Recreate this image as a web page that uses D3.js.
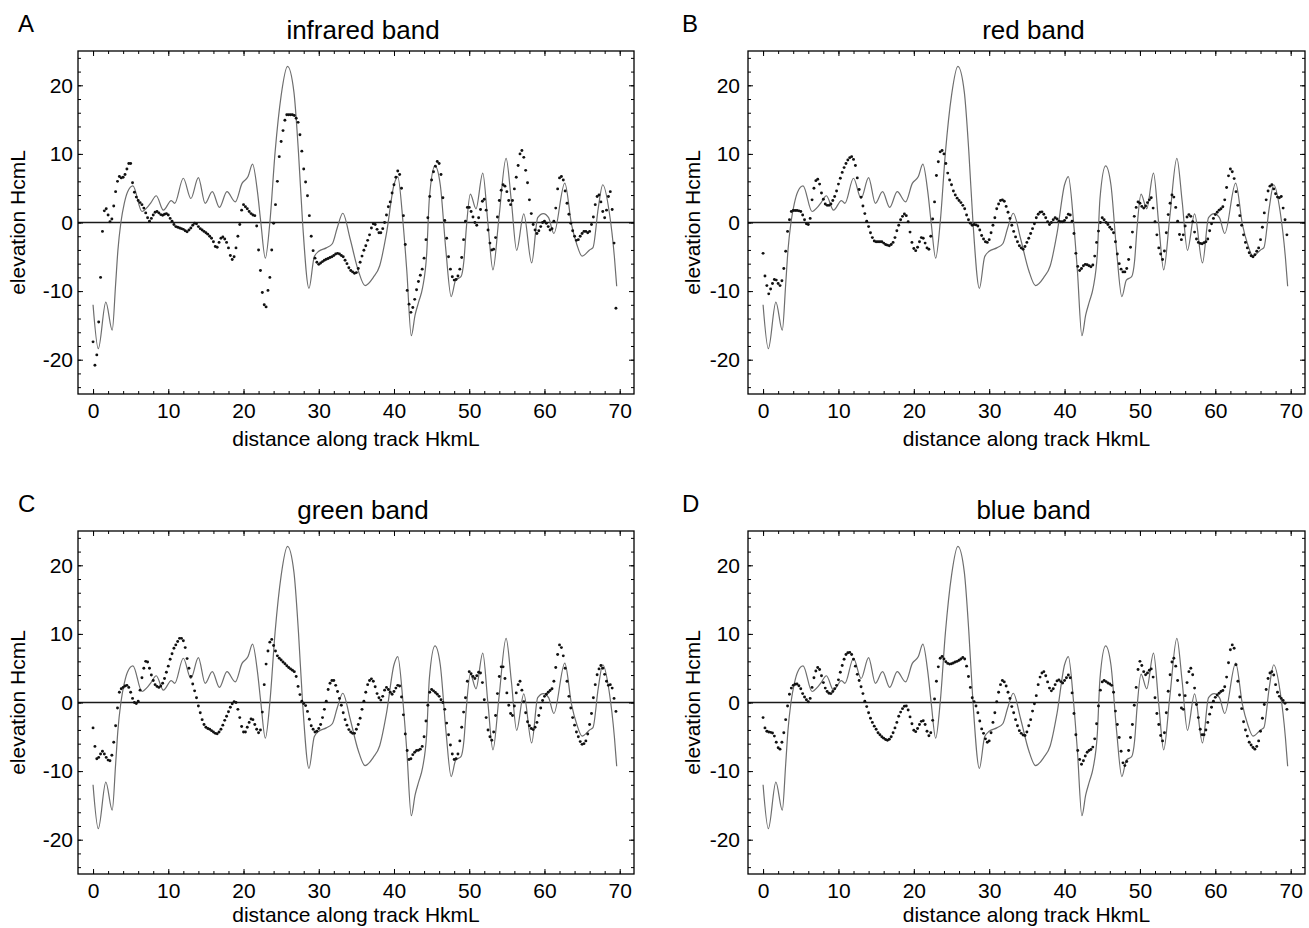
<!DOCTYPE html>
<html><head><meta charset="utf-8">
<script src="https://cdn.jsdelivr.net/npm/d3@7"></script>
<style>
body{margin:0;background:#fff;}
svg{display:block;}
text{font-family:"Liberation Sans",Arial,Helvetica,sans-serif;fill:#000;}
</style></head>
<body><svg id="chart" width="1309" height="928"></svg>
<script>
// ---------- DATA ----------
// reference elevation profile (gray line), same in all four panels
const lineKm = [0,0.7,1.7,2.55,3.0,3.3,3.7,4.15,4.6,5.3,6.5,7.2,7.7,8.4,9.35,10.4,10.85,12.0,13.0,14.0,14.9,15.85,16.8,17.8,18.9,19.8,20.6,21.2,21.85,22.3,22.9,23.5,24.2,25.0,25.85,26.7,27.3,27.85,28.7,29.4,30.0,31.0,31.8,32.45,33.2,34.15,35.25,36.15,37.25,38.1,39.0,40.0,40.5,41.2,41.7,42.3,42.8,43.3,43.8,44.35,44.7,45.45,46.15,46.9,47.6,48.2,48.9,49.3,49.6,50.15,50.9,51.8,52.5,53.15,53.95,54.9,55.6,56.3,57.25,58.3,59.1,59.85,60.55,61.25,62.7,63.6,64.3,65.0,66.0,66.45,67.15,67.75,68.6,69.3,69.6];
const lineElev = [-12,-18.4,-11.6,-15.7,-9.0,-4.1,0,2.8,4.5,5.35,1.6,2.2,2.9,3.9,1.8,3.2,2.8,6.45,3.5,6.55,2.8,4.5,2.2,4.5,3.0,5.7,6.7,8.5,4.5,0,-5.2,0,10.3,18.5,22.75,19,10.3,0,-9.6,-5.0,-4.2,-3.7,-3.1,-0.8,1.35,-2.3,-7.0,-9.2,-8.0,-6.3,-1.6,5.5,6.7,0,-7.0,-16.5,-13.5,-11.5,-9.5,-4.5,3.5,8.25,5.5,-4.1,-10.8,-8.4,-7.9,-5.5,-1.0,4.15,2.0,7.2,-0.3,-6.9,0.7,9.35,3.1,-4.05,1.25,-5.9,0.7,1.3,0.7,-1.6,5.75,-0.3,-3.2,-4.9,-4.0,-3.65,2.1,5.5,1.6,-5.1,-9.3];

// band estimates (dots), one value every 0.25 km from 0 km
const dotStepKm = 0.25;
const infrared = [
-17.4,-20.8,-19.3,-14.5,-8.0,-1.3,1.7,2.0,1.1,0.1,0.5,2.4,4.5,6.0,6.7,6.5,6.6,7.0,7.8,8.6,
8.6,5.8,4.4,3.7,3.2,2.9,2.6,2.1,1.4,0.7,0.2,0.6,1.1,1.5,1.6,1.4,1.15,1.05,1.2,1.3,
1.1,0.6,0.2,-0.3,-0.6,-0.7,-0.8,-0.9,-1.0,-1.2,-1.35,-1.1,-0.8,-0.4,-0.1,-0.2,-0.6,-0.9,-1.1,-1.3,
-1.5,-1.7,-2.0,-2.3,-2.8,-3.5,-3.6,-2.9,-2.3,-2.1,-2.4,-2.9,-3.7,-4.8,-5.4,-5.0,-3.7,-2.0,-0.3,1.8,
2.6,2.3,2.0,1.6,1.3,1.1,1.0,-0.5,-4.0,-7.0,-10.2,-12.0,-12.3,-9.9,-8.0,-4.0,-0.1,2.6,6.0,9.6,
11.8,13.4,14.9,15.7,15.7,15.7,15.7,15.6,15.2,14.6,12.8,10.4,7.8,5.9,3.9,1.0,-2.0,-4.1,-5.2,-5.8,
-6.1,-5.9,-5.7,-5.5,-5.35,-5.25,-5.1,-5.0,-4.8,-4.6,-4.5,-4.6,-4.8,-5.0,-5.5,-6.0,-6.6,-7.0,-7.2,-7.4,
-7.3,-6.7,-5.8,-4.9,-4.05,-3.4,-2.6,-1.8,-0.8,-0.2,-0.3,-1.0,-1.5,-1.5,-0.9,0.0,1.1,2.3,3.0,4.3,
5.5,6.6,7.5,7.0,5.0,1.0,-3.2,-9.9,-11.9,-13.1,-12.4,-11.2,-9.8,-8.6,-7.7,-6.8,-5.2,-2.5,0.7,3.8,
6.2,7.4,8.2,8.9,8.6,7.0,3.6,0.3,-2.3,-5.0,-6.8,-7.9,-8.4,-8.3,-7.8,-6.8,-5.1,-2.5,0.2,2.2,
2.2,1.6,0.8,0.0,-0.4,0.7,1.9,3.1,3.4,1.8,-1.1,-3.0,-4.0,-3.9,-2.2,0.8,3.2,4.7,5.5,5.3,
4.5,3.2,2.6,3.2,4.9,6.6,8.3,10.0,10.5,9.5,7.6,5.8,3.3,1.3,-0.3,-1.1,-1.6,-1.2,-0.6,0.0,
0.2,-0.1,-0.6,-1.1,-0.9,0.2,2.1,4.9,6.5,6.7,6.2,4.6,2.8,1.2,-0.1,-1.2,-2.0,-2.6,-2.5,-2.0,
-1.6,-1.3,-1.3,-1.5,-1.3,-0.3,0.8,2.6,3.8,4.0,3.0,1.6,0.7,1.8,3.8,4.5,1.9,-3.0,-12.5];
const red = [
-4.5,-7.8,-9.2,-10.4,-9.7,-8.9,-8.3,-8.4,-8.9,-9.2,-8.5,-6.7,-4.2,-1.3,0.4,1.6,1.75,1.75,1.75,1.7,
1.6,1.1,0.4,-0.2,-0.3,0.6,3.3,5.0,6.1,6.3,5.6,4.3,3.4,2.7,2.5,2.5,2.7,3.2,3.8,4.6,
5.6,6.45,7.3,8.0,8.6,9.1,9.45,9.6,9.2,8.3,6.5,4.8,3.7,2.4,1.3,0.2,-0.6,-1.5,-2.2,-2.7,
-2.8,-2.8,-2.8,-2.8,-3.0,-3.2,-3.3,-3.4,-3.2,-2.9,-2.2,-1.2,-0.4,0.4,0.9,1.25,1.0,0.1,-1.4,-2.9,
-3.8,-4.1,-3.6,-2.8,-2.2,-2.3,-3.0,-3.7,-3.9,-2.0,0.5,3.0,6.85,8.85,10.3,10.5,10.0,8.6,7.2,6.2,
5.5,4.6,4.0,3.55,3.2,2.9,2.5,2.0,1.1,0.4,-0.1,-0.4,-0.3,-0.35,-0.5,-1.1,-1.9,-2.4,-2.8,-2.9,
-2.5,-1.5,-0.4,0.7,2.0,2.7,3.2,3.3,3.1,2.35,1.5,0.6,-0.4,-1.3,-2.1,-2.8,-3.4,-3.7,-3.9,-3.5,
-2.9,-2.3,-1.6,-0.9,-0.2,0.7,1.2,1.5,1.55,1.2,0.7,0.1,-0.3,0.0,0.4,0.7,0.5,0.2,0.1,0.1,
0.3,0.7,1.2,1.1,0.2,-1.6,-4.5,-6.4,-7.0,-6.7,-6.3,-6.1,-6.15,-6.3,-6.45,-6.2,-4.9,-2.9,-1.25,0.0,
0.7,0.4,0.0,-0.3,-0.7,-1.0,-1.5,-2.8,-4.6,-6.0,-6.8,-7.2,-7.2,-6.7,-5.4,-3.6,-1.4,0.9,2.2,3.0,
2.8,2.35,2.1,2.4,2.9,3.3,3.6,2.1,0.1,-1.8,-3.7,-4.6,-5.4,-4.15,-1.5,1.15,2.8,4.0,3.7,2.2,
0.2,-1.75,-2.5,-1.8,-0.5,0.8,1.15,0.9,0.1,-1.4,-2.4,-2.9,-3.05,-3.1,-2.95,-2.8,-2.4,-1.2,-0.2,0.6,
1.15,1.5,1.8,2.0,2.3,3.3,5.1,6.8,7.8,7.4,6.4,4.5,2.5,1.0,-0.4,-1.8,-2.9,-3.7,-4.4,-4.85,
-5.0,-4.7,-4.2,-3.7,-2.5,-0.7,1.4,3.3,4.6,5.3,5.5,4.9,4.2,3.7,3.6,3.8,2.1,0.4,-1.8];
const green = [
-3.7,-6.4,-8.2,-8.0,-7.5,-7.1,-7.5,-8.0,-8.4,-8.5,-7.7,-5.8,-3.4,-0.8,1.5,2.0,2.2,2.4,2.5,2.2,
1.5,0.6,0.0,-0.15,0.2,1.8,3.6,5.0,6.0,5.9,5.0,4.0,3.2,2.6,2.35,2.2,2.4,2.8,3.5,4.4,
5.3,6.3,7.1,7.9,8.4,8.9,9.35,9.35,9.0,8.0,6.4,5.0,3.8,2.7,1.7,0.7,-0.5,-1.5,-2.5,-3.2,
-3.6,-3.8,-3.9,-4.1,-4.3,-4.5,-4.55,-4.3,-3.9,-3.3,-2.6,-2.0,-1.35,-0.7,-0.2,0.1,0.0,-1.0,-2.2,-3.5,
-4.3,-4.3,-3.6,-2.9,-2.4,-2.5,-3.2,-3.9,-4.4,-4.0,-1.4,2.6,5.6,7.5,8.8,9.2,8.3,7.5,6.8,6.45,
6.2,5.9,5.65,5.35,5.1,4.9,4.7,4.5,3.8,2.35,1.15,0.2,-0.15,-0.45,-1.3,-2.45,-3.4,-3.9,-4.3,-4.2,
-3.8,-3.2,-2.2,-1.0,0.2,1.9,2.8,3.2,3.2,2.5,1.6,0.6,-0.4,-1.5,-2.5,-3.3,-3.95,-4.3,-4.5,-4.5,
-3.9,-3.2,-2.3,-1.0,0.2,1.5,2.6,3.2,3.45,3.1,2.3,1.3,0.7,0.35,0.9,1.8,2.2,1.9,1.5,1.2,
1.6,2.1,2.5,2.4,0.8,-1.8,-4.6,-7.0,-8.3,-8.2,-7.6,-7.25,-7.0,-6.95,-6.8,-6.4,-5.0,-2.7,-0.4,1.5,
1.9,1.7,1.45,1.2,0.9,0.4,0.0,-1.0,-3.0,-4.7,-6.2,-7.5,-8.3,-8.2,-7.5,-5.6,-3.6,-1.4,0.7,3.1,
4.5,4.2,3.8,3.5,3.9,4.4,4.3,2.9,0.4,-2.2,-4.0,-5.0,-5.5,-4.3,-1.9,1.3,3.8,5.2,5.2,3.5,
1.4,-0.4,-1.6,-1.9,-0.5,1.4,2.6,3.1,1.8,0.1,-1.5,-2.8,-3.4,-3.8,-3.95,-3.6,-2.9,-1.9,-0.8,0.3,
0.9,1.2,1.5,1.75,2.0,3.1,5.1,7.0,8.4,8.0,6.8,5.0,3.1,0.9,-0.8,-2.2,-3.3,-4.3,-5.0,-5.7,
-6.1,-6.0,-5.6,-4.6,-3.2,-1.6,0.7,2.6,4.05,4.9,5.4,5.0,4.1,3.1,2.5,2.6,2.1,0.6,-1.3];
const blue = [
-2.2,-3.7,-4.2,-4.3,-4.35,-4.45,-4.9,-5.8,-6.6,-6.8,-5.8,-4.4,-2.5,-0.5,1.2,2.1,2.5,2.65,2.7,2.45,
2.0,1.3,0.8,0.4,0.1,0.6,2.2,3.6,4.6,5.1,4.8,3.9,2.9,2.1,1.6,1.35,1.3,1.6,2.0,2.5,
3.3,4.4,5.4,6.3,7.0,7.25,7.3,7.0,6.3,5.3,4.1,3.2,2.3,1.3,0.2,-0.6,-1.5,-2.3,-2.9,-3.45,
-3.9,-4.4,-4.7,-5.0,-5.2,-5.4,-5.5,-5.35,-5.0,-4.4,-3.7,-2.9,-2.0,-1.4,-0.9,-0.55,-0.5,-1.1,-2.1,-3.1,
-4.05,-4.25,-3.8,-3.2,-2.75,-2.65,-3.2,-4.2,-4.85,-4.4,-2.6,0.5,3.1,5.2,6.45,6.7,6.35,5.95,5.7,5.6,
5.65,5.75,5.9,6.0,6.15,6.35,6.55,6.35,5.3,3.8,2.2,0.7,0.1,-0.5,-1.5,-2.7,-3.85,-4.5,-5.3,-5.8,
-5.6,-4.4,-2.9,-1.5,0.1,1.5,2.6,3.2,3.0,2.4,1.5,0.6,-0.6,-1.5,-2.5,-3.4,-4.1,-4.5,-4.75,-4.8,
-4.3,-3.4,-2.5,-1.25,-0.2,1.0,2.6,3.7,4.3,4.5,3.9,3.0,2.1,1.7,2.0,2.6,3.15,3.3,3.05,2.85,
3.2,3.6,4.0,3.6,1.4,-1.6,-4.7,-7.0,-8.3,-9.0,-8.5,-7.8,-7.25,-7.0,-6.85,-6.5,-5.3,-3.1,-0.5,1.8,
3.0,3.2,3.05,2.85,2.7,2.5,1.5,-1.25,-3.2,-5.1,-7.1,-8.8,-9.2,-8.6,-7.0,-5.1,-3.2,-0.4,2.2,4.8,
6.0,5.4,4.5,4.05,4.3,4.7,4.9,3.7,0.7,-1.6,-3.2,-4.8,-5.6,-4.4,-1.5,1.65,4.05,5.9,6.45,5.3,
3.2,1.1,-0.8,-1.0,1.0,2.9,4.5,5.0,4.05,2.1,-0.3,-2.2,-3.9,-4.7,-4.7,-4.0,-2.9,-1.7,-0.7,0.2,
0.75,1.1,1.35,1.6,1.75,2.3,3.7,5.8,7.7,8.4,7.9,5.5,3.1,0.8,-0.9,-2.8,-4.0,-4.9,-5.8,-6.2,
-6.55,-6.8,-6.4,-5.6,-4.2,-2.3,-0.3,1.9,3.5,4.3,4.5,4.0,2.6,1.5,0.9,0.6,0.3,-0.1,-1.0];

const bandSeries = [infrared, red, green, blue];
const panelLetters = ["A", "B", "C", "D"];
const panelTitles = ["infrared band", "red band", "green band", "blue band"];
const xTickValues = [0, 10, 20, 30, 40, 50, 60, 70];
const yTickValues = [-20, -10, 0, 10, 20];
const xMinorTicks = [0,2,4,6,8,10,12,14,16,18,20,22,24,26,28,30,32,34,36,38,40,42,44,46,48,50,52,54,56,58,60,62,64,66,68,70];
const yMinorTicks = [-24,-22,-20,-18,-16,-14,-12,-10,-8,-6,-4,-2,0,2,4,6,8,10,12,14,16,18,20,22,24];
const xLabel = "distance along track HkmL";
const yLabel = "elevation HcmL";
const xDomain = [-2, 71.9];
const yDomain = [-25, 25];

// ---------- LAYOUT ----------
const layout = [
  {left: 78,  right: 634,  top: 51,  bottom: 394, tickPad: 5, yTitleX: 25,  letterX: 18,  xTitleY: 446},
  {left: 748, right: 1305, top: 51,  bottom: 394, tickPad: 8, yTitleX: 700, letterX: 682, xTitleY: 446},
  {left: 78,  right: 634,  top: 531, bottom: 874, tickPad: 5, yTitleX: 25,  letterX: 18,  xTitleY: 922},
  {left: 748, right: 1305, top: 531, bottom: 874, tickPad: 8, yTitleX: 700, letterX: 682, xTitleY: 922}
];

const svg = d3.select("#chart");
svg.append("rect").attr("width", 1309).attr("height", 928).attr("fill", "#fff");

function clean(sel) {
  sel.select(".domain").remove();
  sel.selectAll(".tick line").attr("stroke", "#000").attr("stroke-width", 1);
  sel.selectAll(".tick text").attr("font-size", 21).attr("fill", "#000")
     .attr("font-family", '"Liberation Sans", Arial, Helvetica, sans-serif');
}

layout.forEach((p, k) => {
  const x = d3.scaleLinear().domain(xDomain).range([p.left, p.right]);
  const y = d3.scaleLinear().domain(yDomain).range([p.bottom, p.top]);
  const g = svg.append("g");
  const fmt = d => String(d);

  // zero line
  g.append("line")
    .attr("x1", p.left).attr("x2", p.right)
    .attr("y1", y(0)).attr("y2", y(0))
    .attr("stroke", "#1a1a1a").attr("stroke-width", 1.6);

  // reference profile
  const pts = d3.zip(lineKm, lineElev);
  g.append("path")
    .datum(pts)
    .attr("fill", "none")
    .attr("stroke", "#6e6e6e")
    .attr("stroke-width", 1.2)
    .attr("d", d3.line().x(d => x(d[0])).y(d => y(d[1])).curve(d3.curveMonotoneX));

  // band dots
  const dots = bandSeries[k].map((v, i) => [i * dotStepKm, v]);
  g.append("g").selectAll("circle")
    .data(dots).join("circle")
    .attr("cx", d => x(d[0])).attr("cy", d => y(d[1]))
    .attr("r", 1.45).attr("fill", "#111");

  // frame
  g.append("rect")
    .attr("x", p.left).attr("y", p.top)
    .attr("width", p.right - p.left).attr("height", p.bottom - p.top)
    .attr("fill", "none").attr("stroke", "#000").attr("stroke-width", 1.3);

  // ticks: bottom
  g.append("g").attr("transform", `translate(0,${p.bottom})`)
    .call(d3.axisBottom(x).tickValues(xMinorTicks).tickSize(-3).tickFormat("")).call(clean);
  g.append("g").attr("transform", `translate(0,${p.bottom})`)
    .call(d3.axisBottom(x).tickValues(xTickValues).tickSize(-5).tickPadding(9).tickFormat(fmt)).call(clean);
  // top
  g.append("g").attr("transform", `translate(0,${p.top})`)
    .call(d3.axisTop(x).tickValues(xMinorTicks).tickSize(-3).tickFormat("")).call(clean);
  g.append("g").attr("transform", `translate(0,${p.top})`)
    .call(d3.axisTop(x).tickValues(xTickValues).tickSize(-5).tickFormat("")).call(clean);
  // left
  g.append("g").attr("transform", `translate(${p.left},0)`)
    .call(d3.axisLeft(y).tickValues(yMinorTicks).tickSize(-3).tickFormat("")).call(clean);
  g.append("g").attr("transform", `translate(${p.left},0)`)
    .call(d3.axisLeft(y).tickValues(yTickValues).tickSize(-5).tickPadding(p.tickPad).tickFormat(fmt)).call(clean);
  // right
  g.append("g").attr("transform", `translate(${p.right},0)`)
    .call(d3.axisRight(y).tickValues(yMinorTicks).tickSize(-3).tickFormat("")).call(clean);
  g.append("g").attr("transform", `translate(${p.right},0)`)
    .call(d3.axisRight(y).tickValues(yTickValues).tickSize(-5).tickFormat("")).call(clean);

  // axis titles
  g.append("text")
    .attr("x", (p.left + p.right) / 2).attr("y", p.xTitleY)
    .attr("text-anchor", "middle").attr("font-size", 21)
    .text(xLabel);
  g.append("text")
    .attr("transform", `translate(${p.yTitleX},${(p.top + p.bottom) / 2}) rotate(-90)`)
    .attr("text-anchor", "middle").attr("font-size", 21)
    .text(yLabel);

  // panel title and letter
  g.append("text")
    .attr("x", (p.left + p.right) / 2 + 7).attr("y", p.top - 12)
    .attr("text-anchor", "middle").attr("font-size", 26)
    .text(panelTitles[k]);
  g.append("text")
    .attr("x", p.letterX).attr("y", p.top - 19)
    .attr("font-size", 24)
    .text(panelLetters[k]);
});
</script>
</body></html>
